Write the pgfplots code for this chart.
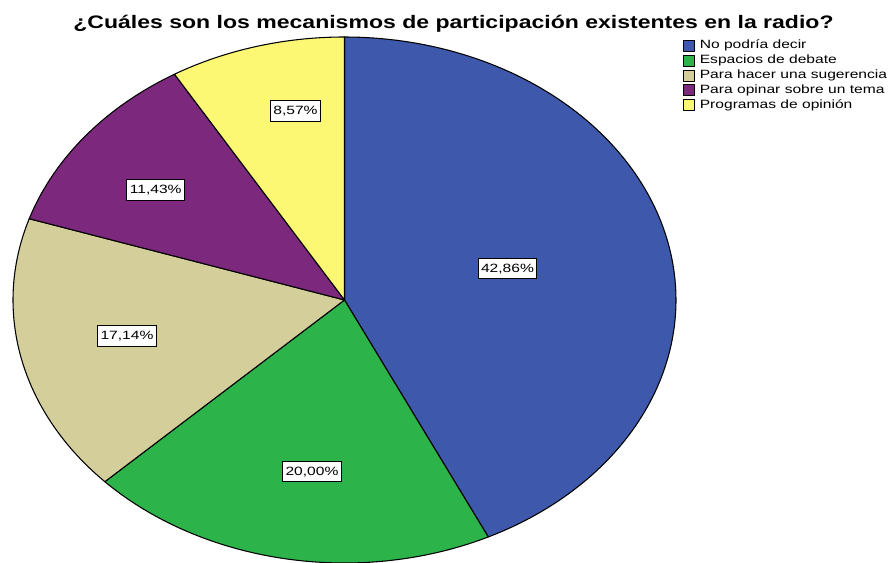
\documentclass[border=0pt]{standalone}
\usepackage{pgfplots}
\pgfplotsset{compat=1.18}
\usepackage{fontspec}
\setmainfont{Liberation Sans}
\newfontfamily\lblfont[FakeStretch=1.3]{Liberation Sans}
\newfontfamily\ttlfont[FakeStretch=1.27]{Liberation Sans}
\definecolor{cblue}{RGB}{62,88,171}
\definecolor{cgreen}{RGB}{44,180,74}
\definecolor{ctan}{RGB}{212,206,154}
\definecolor{cpurple}{RGB}{124,40,124}
\definecolor{cyellow}{RGB}{252,248,115}
\tikzset{lblbox/.style={draw=black, line width=0.6pt, fill=white,
    font=\lblfont\fontsize{9}{10.5}\selectfont,
    inner xsep=2.2pt, inner ysep=0pt, minimum height=15.5pt,
    text height=6.6pt, text depth=0.6pt}}
% shares (%): 42.86, 20.00, 17.14, 11.43, 8.57 -> clockwise from 90 deg
\newcommand{\slice}[3]{%
  \addplot[fill=#3, draw=black, line width=0.8pt, line join=round,
    domain=#1:#2, samples=120, variable=\t]
    ({344.5+331.5*cos(\t)},{263+263*sin(\t)}) -- (axis cs:344.5,263) -- cycle;}
\begin{document}
\begin{tikzpicture}
\begin{axis}[
  width=669pt, height=422.25pt, scale only axis,
  xmin=0, xmax=892, ymin=0, ymax=563,
  hide axis, clip=true, no markers,
  area legend,
  legend image code/.code={\draw[#1, line width=0.6pt] (0pt,-4.1pt) rectangle (8.5pt,4.1pt);},
  legend cell align=left,
  legend style={at={(axis cs:683,523)}, anchor=north west, draw=none, fill=none,
    inner sep=0pt, outer sep=0pt, row sep=2.3pt,
    font=\lblfont\fontsize{9}{10.5}\selectfont,
    nodes={inner xsep=1pt, inner ysep=0pt, text height=6.6pt, text depth=2pt},
    /tikz/every odd column/.append style={column sep=2.5pt}},
]
\path (rel axis cs:0,0) rectangle (rel axis cs:1,1);
\slice{90}{-64.296}{cblue}      % 42.86
\addlegendentry{No podría decir}
\slice{-64.296}{-136.296}{cgreen} % 20.00
\addlegendentry{Espacios de debate}
\slice{-136.296}{-198}{ctan}      % 17.14
\addlegendentry{Para hacer una sugerencia}
\slice{-198}{-239.148}{cpurple}   % 11.43
\addlegendentry{Para opinar sobre un tema}
\slice{-239.148}{-270}{cyellow}   % 8.57
\addlegendentry{Programas de opinión}
\node[lblbox] at (axis cs:507.5,294.5) {42,86\%};
\node[lblbox] at (axis cs:312,91.5) {20,00\%};
\node[lblbox] at (axis cs:127,227) {17,14\%};
\node[lblbox] at (axis cs:155.7,373) {11,43\%};
\node[lblbox] at (axis cs:295.5,452) {8,57\%};
\node[anchor=base, inner sep=0pt, font=\ttlfont\bfseries\fontsize{13.6}{16}\selectfont]
  at (axis cs:453.5,534) {¿Cuáles son los mecanismos de participación existentes en la radio?};
\end{axis}
\end{tikzpicture}
\end{document}
